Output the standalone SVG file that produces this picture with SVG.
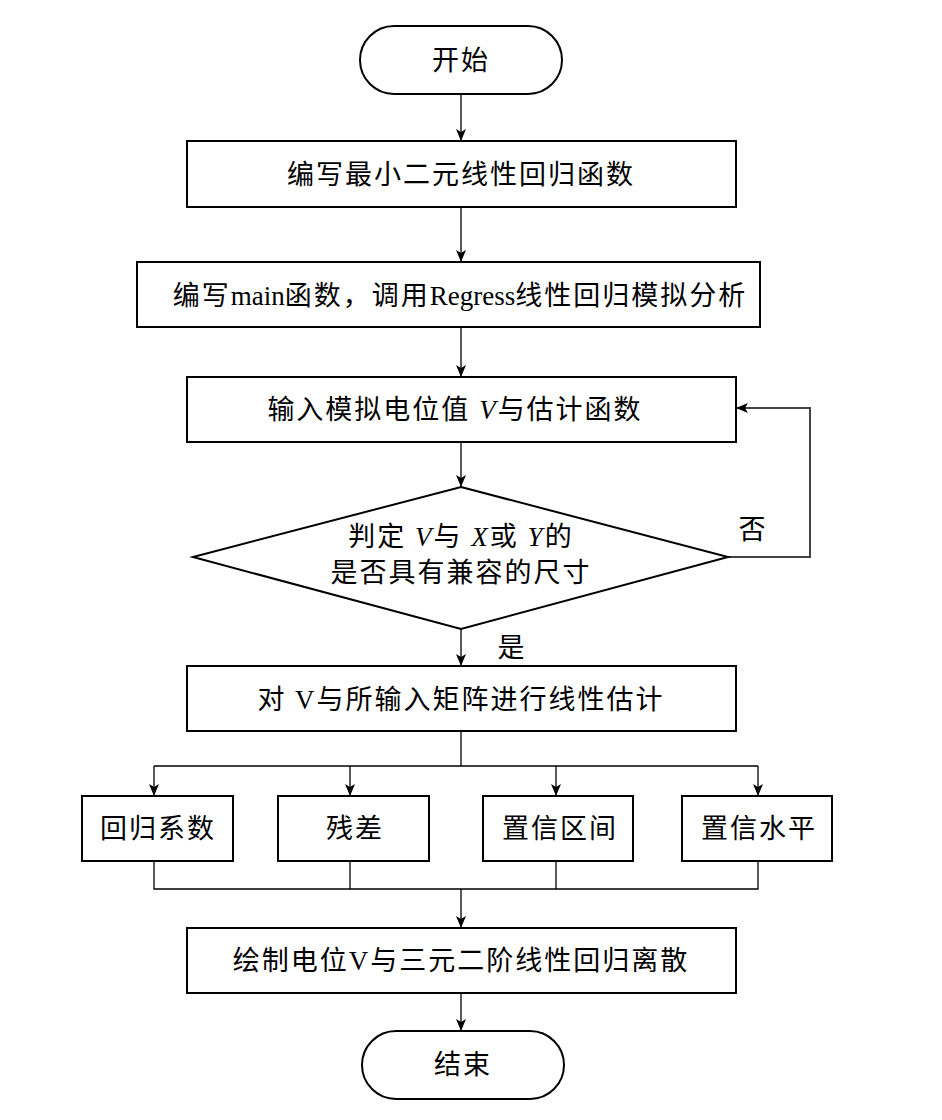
<svg xmlns="http://www.w3.org/2000/svg" width="942" height="1120" viewBox="0 0 942 1120">
<style>
.n{fill:#fff;stroke:#000;stroke-width:2}
.c{fill:none;stroke:#000;stroke-width:1.3}
.t{font-family:"Liberation Serif","Noto Sans CJK SC",serif;font-size:27px;fill:#000;text-anchor:middle;dominant-baseline:central;letter-spacing:2px}
.i{font-style:italic}
.l{letter-spacing:0}
</style>
<defs>
<marker id="a" markerWidth="12" markerHeight="10" refX="11" refY="5" orient="auto" markerUnits="userSpaceOnUse">
<path d="M0,0 L12,5 L0,10 L3,5 z" fill="#000"/>
</marker>
</defs>
<rect width="942" height="1120" fill="#fff"/>
<g id="connectors">
<line class="c" x1="461" y1="94" x2="461" y2="140" marker-end="url(#a)"/>
<line class="c" x1="461" y1="207" x2="461" y2="261" marker-end="url(#a)"/>
<line class="c" x1="461" y1="327" x2="461" y2="376" marker-end="url(#a)"/>
<line class="c" x1="461" y1="442" x2="461" y2="486" marker-end="url(#a)"/>
<line class="c" x1="461" y1="629" x2="461" y2="665" marker-end="url(#a)"/>
<polyline class="c" points="728,557 810,557 810,408 737,408" style="stroke:#444;stroke-width:2" marker-end="url(#a)"/>
<line class="c" x1="461" y1="731" x2="461" y2="766"/>
<line class="c" x1="154" y1="766" x2="758" y2="766"/>
<line class="c" x1="154" y1="766" x2="154" y2="795" marker-end="url(#a)"/>
<line class="c" x1="350" y1="766" x2="350" y2="795" marker-end="url(#a)"/>
<line class="c" x1="556" y1="766" x2="556" y2="795" marker-end="url(#a)"/>
<line class="c" x1="758" y1="766" x2="758" y2="795" marker-end="url(#a)"/>
<polyline class="c" points="154,861 154,889 758,889 758,861"/>
<line class="c" x1="350" y1="861" x2="350" y2="889"/>
<line class="c" x1="556" y1="861" x2="556" y2="889"/>
<line class="c" x1="461" y1="889" x2="461" y2="927" marker-end="url(#a)"/>
<line class="c" x1="461" y1="993" x2="461" y2="1030" marker-end="url(#a)"/>
<text class="t" x="753" y="530">否</text>
<text class="t" x="512" y="648">是</text>
</g>
<g id="start">
<rect class="n" x="360" y="26" width="202" height="68" rx="34"/>
<text class="t" x="461" y="61">开始</text>
</g>
<g id="step1">
<rect class="n" x="187" y="141" width="549" height="66"/>
<text class="t" x="461" y="175">编写最小二元线性回归函数</text>
</g>
<g id="step2">
<rect class="n" x="137" y="262" width="623" height="65"/>
<text class="t" x="460" y="296">编写<tspan class="l">main</tspan>函数，调用<tspan class="l">Regress</tspan>线性回归模拟分析</text>
</g>
<g id="step3">
<rect class="n" x="187" y="377" width="549" height="65"/>
<text class="t" x="455" y="410">输入模拟电位值 <tspan class="i">V</tspan>与估计函数</text>
</g>
<g id="decision">
<polygon class="n" points="461,487 728,557 461,629 193,557"/>
<text class="t" x="461" y="537">判定 <tspan class="i">V</tspan>与 <tspan class="i">X</tspan>或 <tspan class="i">Y</tspan>的</text>
<text class="t" x="461" y="573">是否具有兼容的尺寸</text>
</g>
<g id="step4">
<rect class="n" x="187" y="666" width="549" height="65"/>
<text class="t" x="461" y="700">对 V与所输入矩阵进行线性估计</text>
</g>
<g id="coef">
<rect class="n" x="82" y="796" width="151" height="65"/>
<text class="t" x="158" y="829">回归系数</text>
</g>
<g id="resid">
<rect class="n" x="278" y="796" width="151" height="65"/>
<text class="t" x="355" y="829">残差</text>
</g>
<g id="ci">
<rect class="n" x="483" y="796" width="150" height="65"/>
<text class="t" x="560" y="829">置信区间</text>
</g>
<g id="cl">
<rect class="n" x="682" y="796" width="150" height="65"/>
<text class="t" x="759" y="829">置信水平</text>
</g>
<g id="step5">
<rect class="n" x="187" y="928" width="549" height="65"/>
<text class="t" x="461" y="961">绘制电位V与三元二阶线性回归离散</text>
</g>
<g id="end">
<rect class="n" x="362" y="1031" width="202" height="68" rx="34"/>
<text class="t" x="463" y="1065">结束</text>
</g>
</svg>
